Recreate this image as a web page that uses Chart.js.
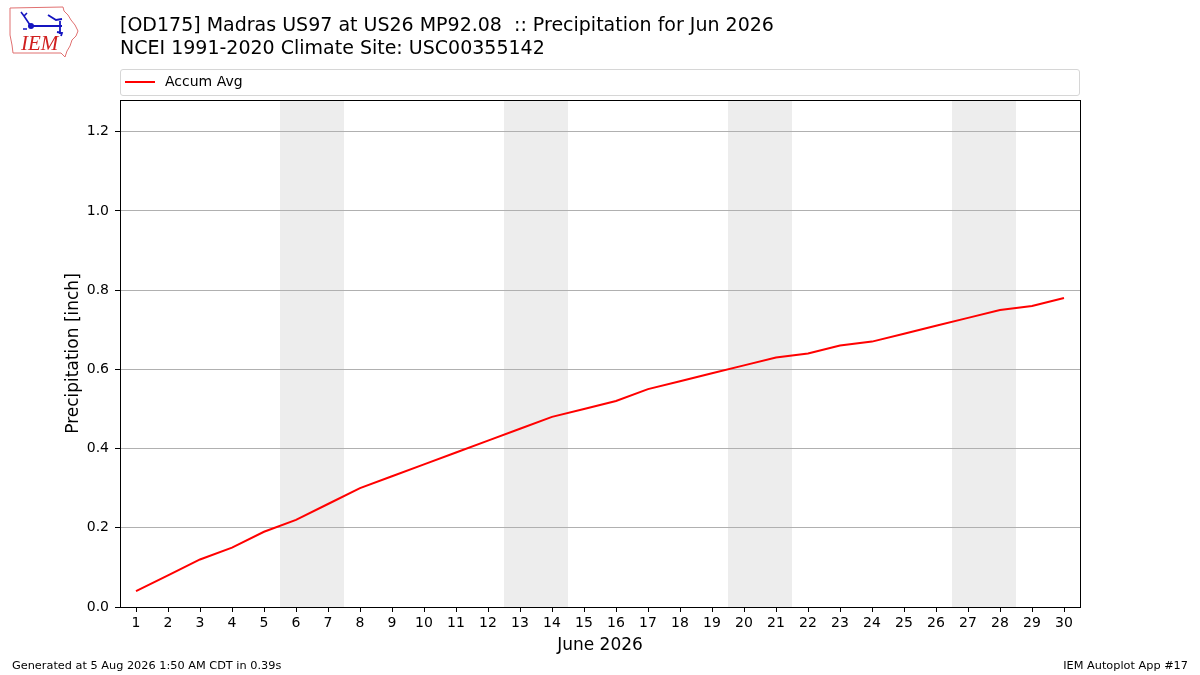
<!DOCTYPE html>
<html>
<head>
<meta charset="utf-8">
<script src="https://cdn.jsdelivr.net/npm/chart.js@4"></script>
<style>
  body { margin: 0; background: #fff; font-family: "DejaVu Sans", sans-serif; }
  #wrap { position: relative; width: 1200px; height: 675px; }
  canvas { position: absolute; left: 0; top: 0; }
  .title { position: absolute; left: 120px; font-size: 19px; color: #000; white-space: nowrap; }
  .foot { position: absolute; top: 659px; font-size: 11.3px; color: #000; }
  #legend { position: absolute; left: 120px; top: 69px; width: 958px; height: 25px;
            border: 1px solid #d6d6d6; border-radius: 3px; font-size: 14px; }
  #legend .sw { position: absolute; left: 4px; top: 11px; width: 30px; height: 2px; }
  #legend .lbl { position: absolute; left: 44px; top: 3px; }
  #logo { position: absolute; left: 0; top: 0; }
</style>
</head>
<body>
<div id="wrap">
  <canvas id="chart" width="1200" height="675"></canvas>
  <svg id="logo" width="100" height="65" viewBox="0 0 100 65">
    <path d="M10 8 L63 7 L64 11 L68 15 L71 20 L75 25 L78 31 L76 36 L72 40 L70 46 L67 51 L65 57 L61 53 L13 53 L12 45 L10 35 Z"
          fill="none" stroke="#e07070" stroke-width="1"/>
    <path d="M21 12 L24 16 L27 13 M24 16 L30 25" stroke="#1515c0" stroke-width="1.6" fill="none"/>
    <circle cx="31" cy="26" r="3" fill="#1515c0"/>
    <circle cx="24" cy="29" r="1" fill="#1515c0"/>
    <circle cx="26" cy="29" r="1" fill="#1515c0"/>
    <path d="M31 26 L62 26 M48 15 L56 20 L62 19 M60 21 L60 34 M57 32 L62 33 L61 36" stroke="#1515c0" stroke-width="1.8" fill="none"/>
    <text x="21" y="50" font-family="Liberation Serif, serif" font-style="italic" font-size="21" fill="#d02020">IEM</text>
  </svg>
  <div class="title" style="top:13px">[OD175] Madras US97 at US26 MP92.08&nbsp; :: Precipitation for Jun 2026</div>
  <div class="title" style="top:36px">NCEI 1991-2020 Climate Site: USC00355142</div>
  <div id="legend"></div>
  <div class="foot" style="left:12px">Generated at 5 Aug 2026 1:50 AM CDT in 0.39s</div>
  <div class="foot" style="right:12px">IEM Autoplot App #17</div>
</div>
<script>
const days = [1, 2, 3, 4, 5, 6, 7, 8, 9, 10, 11, 12, 13, 14, 15,
  16, 17, 18, 19, 20, 21, 22, 23, 24, 25, 26, 27, 28, 29, 30];
const accumAvg = [0.04, 0.08, 0.12, 0.15, 0.19, 0.22, 0.26, 0.30, 0.33, 0.36,
  0.39, 0.42, 0.45, 0.48, 0.50, 0.52, 0.55, 0.57, 0.59, 0.61,
  0.63, 0.64, 0.66, 0.67, 0.69, 0.71, 0.73, 0.75, 0.76, 0.78];
// weekend spans (Sat-Sun) as [start, end] in day units
const weekends = [[5.5, 7.5], [12.5, 14.5], [19.5, 21.5], [26.5, 28.5]];
const yTicks = [0, 0.2, 0.4, 0.6, 0.8, 1.0, 1.2];

const ctx = document.getElementById('chart').getContext('2d');

const shading = {
  id: 'shading',
  beforeDraw(chart) {
    const { ctx, chartArea, scales } = chart;
    ctx.save();
    ctx.fillStyle = '#ededed';
    weekends.forEach(([a, b]) => {
      const x0 = scales.x.getPixelForValue(a);
      const x1 = scales.x.getPixelForValue(b);
      ctx.fillRect(x0, chartArea.top, x1 - x0, chartArea.bottom - chartArea.top);
    });
    ctx.restore();
  }
};

const frame = {
  id: 'frame',
  afterDraw(chart) {
    const { ctx, chartArea } = chart;
    ctx.save();
    ctx.strokeStyle = '#000';
    ctx.lineWidth = 1;
    ctx.strokeRect(chartArea.left + 0.5, chartArea.top + 0.5,
      chartArea.right - chartArea.left, chartArea.bottom - chartArea.top);
    ctx.restore();
  }
};

const chart = new Chart(ctx, {
  type: 'line',
  data: {
    datasets: [{
      label: 'Accum Avg',
      data: days.map((d, i) => ({ x: d, y: accumAvg[i] })),
      borderColor: '#ff0000',
      borderWidth: 2,
      pointRadius: 0,
      tension: 0
    }]
  },
  options: {
    responsive: false,
    animation: false,
    layout: { padding: { top: 100, right: 120, left: 60, bottom: 0 } },
    plugins: { legend: { display: false }, tooltip: { enabled: false } },
    scales: {
      x: {
        type: 'linear',
        min: 0.5,
        max: 30.5,
        afterBuildTicks: s => { s.ticks = days.map(v => ({ value: v })); },
        afterFit: s => { s.height = 68; },
        grid: { drawOnChartArea: false, tickColor: '#000', tickLength: 5 },
        border: { display: false },
        ticks: { color: '#000', padding: 3, maxRotation: 0, autoSkip: false,
                 font: { family: 'DejaVu Sans', size: 14 } },
        title: { display: true, text: 'June 2026', color: '#000',
                 font: { family: 'DejaVu Sans', size: 17 }, padding: { top: 4, bottom: 19 } }
      },
      y: {
        min: 0,
        max: 1.28,
        afterBuildTicks: s => { s.ticks = yTicks.map(v => ({ value: v })); },
        afterFit: s => { s.width = 60; },
        grid: { color: '#b0b0b0', tickColor: '#000', tickLength: 5 },
        border: { display: false },
        ticks: { color: '#000', padding: 6, callback: v => v.toFixed(1),
                 font: { family: 'DejaVu Sans', size: 14 } },
        title: { display: true, text: 'Precipitation [inch]', color: '#000',
                 font: { family: 'DejaVu Sans', size: 17 }, padding: { top: 3, bottom: 4 } }
      }
    }
  },
  plugins: [shading, frame]
});

// legend box built from the dataset
const legend = document.getElementById('legend');
chart.data.datasets.forEach(ds => {
  legend.innerHTML += `<div class="sw" style="background:${ds.borderColor}"></div><div class="lbl">${ds.label}</div>`;
});
</script>
</body>
</html>
